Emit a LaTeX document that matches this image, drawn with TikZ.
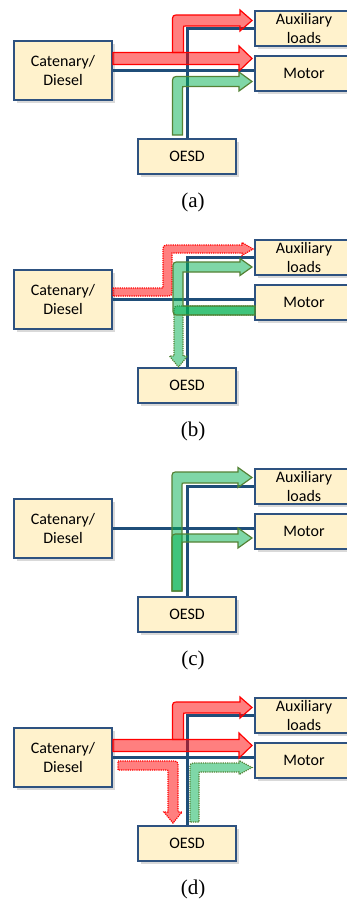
\documentclass[tikz,border=0pt]{standalone}
\usepackage{fontspec}
\setmainfont{Carlito}
\newfontfamily\capfont{Liberation Serif}
\usetikzlibrary{shadows}
\definecolor{boxfill}{HTML}{FFF2CC}
\definecolor{boxline}{HTML}{2E5280}
\definecolor{busblue}{HTML}{1F4E79}
\definecolor{flowred}{HTML}{FF0000}
\definecolor{flowgreen}{HTML}{00B050}
\definecolor{greenline}{HTML}{548235}

\begin{document}
\begin{tikzpicture}[x=1pt,y=-1pt,
  box/.style={draw=boxline,fill=boxfill,line width=1.8pt,minimum width=98pt,minimum height=35pt,inner sep=0pt,align=center,
    font=\fontsize{16}{19}\selectfont,drop shadow={shadow xshift=2.5pt,shadow yshift=-2.5pt,opacity=0.3}},
  bigbox/.style={box,minimum height=59pt},
  sublab/.style={font=\capfont\fontsize{21}{24}\selectfont},
  bus/.style={draw=busblue,line width=3pt},
  redflow/.style={draw=flowred,fill=flowred,fill opacity=0.5,line width=1.2pt},
  greenflow/.style={draw=greenline,fill=flowgreen,fill opacity=0.5,line width=1.2pt},
  reddot/.style={redflow,densely dotted},
  greendot/.style={greenflow,densely dotted}]
\useasboundingbox (0,0) rectangle (347,902);

% (a)
\begin{scope}
\node[bigbox] (cata) at (63,70.5) {Catenary/\\Diesel};
\node[box] (auxa) at (304,28.5) {Auxiliary\\loads};
\node[box] (mota) at (304,73.5) {Motor};
\node[box] (oesda) at (187,156.5) {OESD};
\node[sublab] (capa) at (193,202) {(a)};
\draw[bus] (cata.east) -- (cata.east -| mota.west);
\draw[bus] (oesda.north) |- (auxa.west);
\draw[redflow] (113,52.5) -- (239,52.5) -- (239,46) -- (252,58.5) -- (239,71) -- (239,64.5) -- (113,64.5) -- cycle;
\draw[redflow] (172.5,52.5) -- (172.5,22) .. controls (172.5,15) .. (179.5,15) -- (240,15) -- (240,10) -- (252,20.5)
  -- (240,31) -- (240,26) -- (185.5,26) .. controls (183.5,26) .. (183.5,28) -- (183.5,52.5) -- cycle;
\draw[greenflow] (172.5,135) -- (172.5,84) .. controls (172.5,76.5) .. (180,76.5) -- (239,76.5) -- (239,72) -- (252,81.5)
  -- (239,91) -- (239,86.5) -- (184.5,86.5) .. controls (182.5,86.5) .. (182.5,88.5) -- (182.5,135) -- cycle;
\end{scope}

% (b)
\begin{scope}[shift={(0,229)}]
\node[bigbox] (catb) at (63,70.5) {Catenary/\\Diesel};
\node[box] (auxb) at (304,28.5) {Auxiliary\\loads};
\node[box] (motb) at (304,73.5) {Motor};
\node[box] (oesdb) at (187,156.5) {OESD};
\node[sublab] (capb) at (193,202) {(b)};
\draw[bus] (catb.east) -- (catb.east -| motb.west);
\draw[bus] (oesdb.north) |- (auxb.west);
\draw[reddot] (113,59) -- (163,59) -- (163,23) .. controls (163,16) .. (170,16) -- (242,16) -- (242,13.5) -- (253,20)
  -- (242,26.5) -- (242,24) -- (172,24) -- (172,60) .. controls (172,67) .. (165,67) -- (113,67) -- cycle;
\draw[greendot] (255,77) -- (181,77) .. controls (174,77) .. (174,84) -- (174,127) -- (169.5,127) -- (178.5,138)
  -- (187.5,127) -- (183,127) -- (183,86) -- (255,86) -- cycle;
\draw[greenflow] (255,77) -- (183,77) -- (183,43) -- (240,43) -- (240,46.5) -- (252,38) -- (240,29.5) -- (240,33)
  -- (180,33) .. controls (173,33) .. (173,40) -- (173,79) .. controls (173,86) .. (180,86) -- (255,86) -- cycle;
\end{scope}

% (c)
\begin{scope}[shift={(0,458)}]
\node[bigbox] (catc) at (63,70.5) {Catenary/\\Diesel};
\node[box] (auxc) at (304,28.5) {Auxiliary\\loads};
\node[box] (motc) at (304,73.5) {Motor};
\node[box] (oesdc) at (187,156.5) {OESD};
\node[sublab] (capc) at (193,202) {(c)};
\draw[bus] (catc.east) -- (catc.east -| motc.west);
\draw[bus] (oesdc.north) |- (auxc.west);
\draw[greenflow] (172,133) -- (172,21) .. controls (172,14) .. (179,14) -- (238,14) -- (238,9.5) -- (252,19.5)
  -- (238,29.5) -- (238,25) -- (184,25) .. controls (182,25) .. (182,27) -- (182,133) -- cycle;
\draw[greenflow] (172,133) -- (172,83) .. controls (172,76) .. (179,76) -- (238,76) -- (238,70) -- (252,80)
  -- (238,90) -- (238,84) -- (184,84) .. controls (182,84) .. (182,86) -- (182,133) -- cycle;
\end{scope}

% (d)
\begin{scope}[shift={(0,687)}]
\node[bigbox] (catd) at (63,70.5) {Catenary/\\Diesel};
\node[box] (auxd) at (304,28.5) {Auxiliary\\loads};
\node[box] (motd) at (304,73.5) {Motor};
\node[box] (oesdd) at (187,156.5) {OESD};
\node[sublab] (capd) at (193,202) {(d)};
\draw[bus] (catd.east) -- (catd.east -| motd.west);
\draw[bus] (oesdd.north) |- (auxd.west);
\draw[redflow] (113,52.5) -- (239,52.5) -- (239,46) -- (252,58.5) -- (239,71) -- (239,64.5) -- (113,64.5) -- cycle;
\draw[redflow] (172.5,52.5) -- (172.5,22) .. controls (172.5,15) .. (179.5,15) -- (240,15) -- (240,10) -- (252,20.5)
  -- (240,31) -- (240,26) -- (185.5,26) .. controls (183.5,26) .. (183.5,28) -- (183.5,52.5) -- cycle;
\draw[reddot] (118,74) -- (171,74) .. controls (178,74) .. (178,81) -- (178,125) -- (182,125) -- (173,136)
  -- (164,125) -- (168,125) -- (168,85) .. controls (168,83) .. (166,83) -- (118,83) -- cycle;
\draw[greendot] (190,135) -- (190,83) .. controls (190,76) .. (197,76) -- (239,76) -- (239,73.5) -- (252,80.5)
  -- (239,87.5) -- (239,85) -- (201,85) .. controls (199,85) .. (199,87) -- (199,135) -- cycle;
\end{scope}
\end{tikzpicture}
\end{document}
